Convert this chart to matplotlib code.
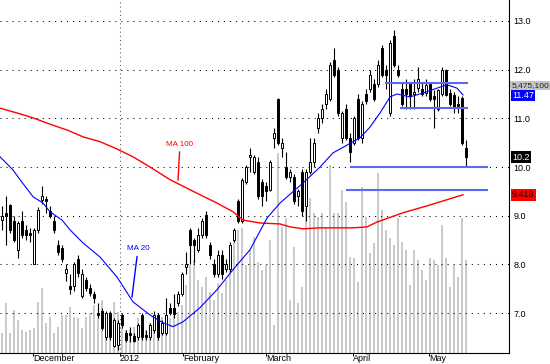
import matplotlib
matplotlib.use("Agg")
import matplotlib.pyplot as plt
import matplotlib.transforms as mtransforms
import numpy as np

plt.rcParams['font.family'] = ['Liberation Sans', 'DejaVu Sans']

# daily candles
opens = [8.92, 9.05, 9.22, 8.9, 8.3, 8.9, 8.7, 8.65, 8.0, 8.7,
         9.32, 9.35, 9.1, 8.9, 8.4, 8.34, 7.83, 7.55, 7.55, 8.12,
         7.35, 7.68, 7.52, 7.4, 7.0, 7.05, 6.5, 7.0, 6.33, 6.35,
         6.95, 6.58, 6.58, 6.52, 6.5, 6.95, 6.55, 6.5, 6.65, 6.95,
         6.6, 6.6, 7.1, 7.1, 7.2, 7.4, 7.95, 8.71, 8.5, 8.3,
         8.6, 9.02, 8.4, 8.0, 7.8, 8.2, 7.9, 7.9, 8.5, 9.3,
         8.9, 9.7, 10.2, 9.9, 10.1, 9.7, 9.6, 9.53, 10.6, 11.4,
         10.4, 10.0, 9.8, 9.8, 9.4, 9.9, 9.2, 9.9, 10.1, 10.8,
         11.0, 11.3, 11.4, 12.2, 12.0, 10.6, 11.2, 10.6, 10.5, 11.4,
         10.6, 11.5, 11.6, 11.7, 11.7, 12.45, 12.0, 11.1, 12.7, 12.0,
         11.6, 11.6, 11.7, 11.5, 11.62, 11.6, 11.52, 11.7, 11.45, 11.2,
         11.5, 12.0, 11.52, 11.48, 11.3, 11.42, 10.4]
highs = [9.2, 9.4, 9.25, 9.0, 8.9, 9.1, 8.8, 8.75, 8.75, 9.18,
         9.6, 9.4, 9.2, 9.0, 8.5, 8.4, 8.0, 7.8, 8.05, 8.2,
         7.9, 7.75, 7.6, 7.45, 7.2, 7.1, 7.05, 7.05, 6.9, 6.85,
         7.0, 6.65, 6.72, 6.6, 6.8, 7.0, 6.65, 6.8, 7.05, 7.0,
         6.85, 7.3, 7.2, 7.4, 7.45, 7.85, 8.25, 8.75, 8.55, 8.75,
         8.95, 9.1, 8.45, 8.1, 8.3, 8.3, 8.1, 8.45, 8.75, 9.35,
         9.78, 10.05, 10.4, 10.25, 10.2, 9.75, 9.7, 10.15, 10.8, 11.42,
         10.6, 10.3, 9.95, 9.85, 9.55, 9.95, 9.95, 10.6, 10.6, 11.1,
         11.3, 11.6, 12.15, 12.45, 12.05, 11.15, 11.3, 10.7, 11.05, 11.5,
         11.35, 11.6, 12.0, 11.8, 12.2, 12.5, 12.1, 12.6, 12.82, 12.1,
         11.75, 11.8, 11.75, 11.8, 12.05, 11.75, 11.8, 11.75, 11.58, 11.6,
         12.05, 12.02, 11.6, 11.55, 11.45, 11.45, 10.55]
lows = [8.7, 8.4, 8.65, 8.45, 8.13, 8.55, 8.5, 8.45, 8.0, 8.65,
        9.25, 9.05, 8.95, 8.65, 8.2, 8.05, 7.65, 7.4, 7.45, 7.75,
        7.3, 7.45, 7.35, 7.2, 6.9, 6.65, 6.45, 6.45, 6.3, 6.25,
        6.7, 6.4, 6.4, 6.4, 6.45, 6.45, 6.45, 6.45, 6.6, 6.45,
        6.55, 6.55, 6.95, 6.9, 7.15, 7.35, 7.8, 8.0, 8.03, 8.25,
        8.55, 8.55, 8.1, 7.75, 7.75, 7.7, 7.85, 7.85, 8.45, 8.85,
        8.85, 9.65, 9.9, 9.85, 9.35, 9.2, 9.3, 9.5, 10.4, 10.45,
        10.2, 9.75, 9.7, 9.25, 9.2, 9.0, 8.9, 9.85, 10.0, 10.7,
        10.9, 11.2, 11.35, 11.85, 11.05, 10.5, 10.55, 10.1, 10.45, 10.55,
        10.5, 11.3, 11.55, 11.35, 11.65, 11.85, 11.6, 11.05, 12.05, 11.85,
        11.25, 11.2, 11.2, 11.2, 11.55, 11.45, 11.45, 11.35, 10.8, 11.15,
        11.45, 11.45, 11.25, 11.1, 11.1, 10.45, 10.02]
closes = [9.0, 9.0, 8.7, 8.5, 8.85, 8.6, 8.6, 8.6, 8.7, 9.12,
          9.4, 9.3, 9.0, 8.7, 8.25, 8.1, 7.9, 7.5, 8.0, 7.82,
          7.8, 7.52, 7.42, 7.3, 6.95, 6.7, 7.0, 6.5, 6.85, 6.8,
          6.75, 6.45, 6.55, 6.42, 6.75, 6.5, 6.5, 6.75, 6.95, 6.5,
          6.8, 6.95, 7.0, 6.98, 7.4, 7.8, 8.0, 8.4, 8.4, 8.61,
          8.9, 8.6, 8.2, 7.8, 8.2, 7.8, 8.0, 8.4, 8.7, 8.9,
          9.74, 10.0, 10.25, 10.2, 9.4, 9.4, 9.5, 10.1, 10.7, 10.5,
          10.5, 9.8, 9.9, 9.3, 9.5, 9.1, 9.9, 10.1, 10.5, 11.0,
          11.2, 11.5, 12.1, 11.9, 11.1, 11.1, 10.6, 10.3, 11.0, 10.6,
          11.3, 11.35, 11.9, 11.4, 12.1, 11.9, 11.9, 12.55, 12.1, 11.9,
          11.3, 11.5, 11.45, 11.55, 11.8, 11.5, 11.68, 11.4, 11.4, 11.58,
          12.0, 11.48, 11.3, 11.22, 11.25, 10.5, 10.2]
# volume in millions
volume = [1.18, 2.95, 1.18, 2.53, 1.94, 1.35, 1.24, 1.35, 1.47, 3.0,
          3.83, 1.77, 2.12, 1.18, 1.53, 2.24, 2.24, 2.71, 2.12, 2.06,
          1.47, 2.12, 2.36, 2.83, 2.06, 3.12, 2.36, 2.41, 3.0, 2.41,
          1.47, 1.35, 1.35, 1.53, 2.06, 1.77, 1.35, 1.77, 1.94, 1.65,
          2.12, 2.24, 2.06, 2.53, 2.41, 2.83, 4.0, 5.18, 5.48, 4.3,
          3.89, 4.48, 3.59, 3.12, 4.12, 3.53, 4.3, 5.36, 6.66, 7.24,
          7.36, 5.18, 6.07, 6.83, 5.36, 4.89, 5.18, 6.66, 1.65, 11.78,
          7.42, 7.95, 3.12, 6.24, 2.95, 3.89, 8.54, 9.13, 8.25, 8.01,
          8.25, 7.42, 11.07, 8.25, 8.25, 9.6, 8.89, 5.65, 5.6, 4.18,
          9.78, 8.01, 5.89, 6.48, 10.6, 8.42, 7.24, 6.77, 6.36, 7.95,
          6.54, 6.07, 4.0, 6.07, 5.48, 4.89, 4.3, 5.6, 5.48, 5.18,
          7.54, 5.6, 3.89, 5.18, 4.48, 7.95, 5.4751]

# moving averages (bar index, value)
ma20_x = [-0.5, 2.75, 4.5, 7.75, 10.25, 12, 15, 17, 20.25, 24.5,
          28.75, 32.75, 37, 40.25, 42.75, 45.25, 49.5, 53.75, 57.75, 62,
          66.25, 69.5, 73.25, 75.25, 79.5, 82.75, 86.25, 89.5, 92, 94.5,
          97, 98.75, 102, 105.25, 108.75, 111.25, 113.75, 115.25]
ma20 = [10.21, 9.94, 9.74, 9.39, 9.26, 9.08, 8.91, 8.71, 8.44, 8.15,
        7.74, 7.23, 6.96, 6.80, 6.72, 6.82, 7.11, 7.48, 7.89, 8.30,
        8.95, 9.26, 9.53, 9.67, 10.0, 10.29, 10.45, 10.60, 10.82, 11.11,
        11.44, 11.50, 11.44, 11.52, 11.62, 11.69, 11.62, 11.48]
ma100_x = [-0.5, 3.75, 7.75, 12, 16.25, 20.25, 24.5, 28.75, 32.75, 37,
           42, 49.5, 53.75, 57.75, 60.25, 64.5, 69.5, 72, 75.25, 79.5,
           87.75, 91.25, 93.75, 100.25, 107, 115.25]
ma100 = [11.21, 11.11, 11.01, 10.88, 10.76, 10.62, 10.52, 10.37, 10.21, 10.0,
         9.74, 9.43, 9.26, 9.08, 8.91, 8.85, 8.83, 8.77, 8.73, 8.75,
         8.75, 8.77, 8.87, 9.06, 9.22, 9.43]

month_pos = [7.75, 29.5, 45.25, 66, 87.75, 106.75]
month_labels = ['December', '2012', 'February', 'March', 'April', 'May']
price_ticks = [7, 8, 9, 10, 11, 12, 13]

# drawn support / resistance lines
levels = [11.73, 11.21, 10.0, 9.52]
level_start = [95.75, 99.5, 87, 86]
level_end = [116.5, 116.5, 121.5, 121.5]

fig = plt.figure(figsize=(5.5, 3.64), dpi=100)
rect = [0, 11 / 364, 509 / 550, 353 / 364]
axv = fig.add_axes(rect)
ax = fig.add_axes(rect)
ax.patch.set_visible(False)

x = np.arange(len(closes))
axv.bar(x, volume, width=0.4, color='#cacaca')
axv.set_xlim(-0.5, 126.75)
axv.set_ylim(0, 20.78)
axv.axis('off')

ax.set_xlim(-0.5, 126.75)
ax.set_ylim(6.179, 13.431)

o = np.array(opens)
c = np.array(closes)
up = c >= o
lo = np.minimum(o, c)
h = np.maximum(np.abs(c - o), 0.025)
ax.vlines(x, lows, highs, color='black', lw=0.8, zorder=3)
ax.bar(x[up], h[up], bottom=lo[up], width=0.62, facecolor='white',
       edgecolor='black', lw=0.7, zorder=4)
ax.bar(x[~up], h[~up], bottom=lo[~up], width=0.62, facecolor='black',
       edgecolor='black', lw=0.7, zorder=4)

ax.plot(ma100_x, ma100, color='#ff0000', lw=1.0, zorder=5)
ax.plot(ma20_x, ma20, color='#0000ff', lw=0.8, zorder=5)

ax.hlines(levels, level_start, level_end, color='#5a6af5', lw=1.5, zorder=6)

ax.annotate('MA 100', xy=(44, 9.73), xytext=(44.5, 10.47), color='#ff0000',
            fontsize=5.8, ha='center', va='center',
            arrowprops=dict(arrowstyle='-', color='#ff0000', lw=1, shrinkA=1, shrinkB=0))
ax.annotate('MA 20', xy=(32.5, 7.33), xytext=(34, 8.32), color='#0000ff',
            fontsize=5.8, ha='center', va='center',
            arrowprops=dict(arrowstyle='-', color='#0000ff', lw=1, shrinkA=1, shrinkB=0))

# grid
ax.set_yticks(price_ticks)
ax.set_yticklabels(['%.1f' % t for t in price_ticks])
ax.grid(axis='y', color='black', linestyle=(0, (1, 4.8)), lw=0.75)
ax.axvline(29.5, color='#555555', linestyle=(0, (1, 3)), lw=0.75)

ax.yaxis.tick_right()
ax.tick_params(axis='y', length=0, pad=3, labelsize=6.5, colors='black')
ax.set_xticks(month_pos)
ax.set_xticklabels(month_labels)
for lab in ax.get_xticklabels():
    lab.set_ha('left')
ax.tick_params(axis='x', length=2.5, width=0.7, pad=-1.8, labelsize=6.5)

for s in ['left', 'top']:
    ax.spines[s].set_visible(False)
for s in ['right', 'bottom']:
    ax.spines[s].set_linewidth(0.8)

# value boxes on the right
trans = mtransforms.blended_transform_factory(ax.transAxes, ax.transData)
ax.text(1.005, 0.758, '5,475,100', transform=ax.transAxes, fontsize=6.0,
        color='#222222', va='center', ha='left', clip_on=False,
        bbox=dict(facecolor='#c4c4c4', edgecolor='none', pad=0.8))
ax.text(1.006, 11.47, '11.47', transform=trans, fontsize=6.5, color='white',
        va='center', ha='left', bbox=dict(facecolor='#0000ff', edgecolor='none', pad=1.0))
ax.text(1.006, closes[-1], '10.2', transform=trans, fontsize=6.5, color='white',
        va='center', ha='left', bbox=dict(facecolor='black', edgecolor='none', pad=1.0))
ax.text(1.006, 9.43, '9.418', transform=trans, fontsize=6.5, color='#2a0000',
        va='center', ha='left', bbox=dict(facecolor='#ff0000', edgecolor='none', pad=1.0))

fig.savefig('out.png', dpi=100)
